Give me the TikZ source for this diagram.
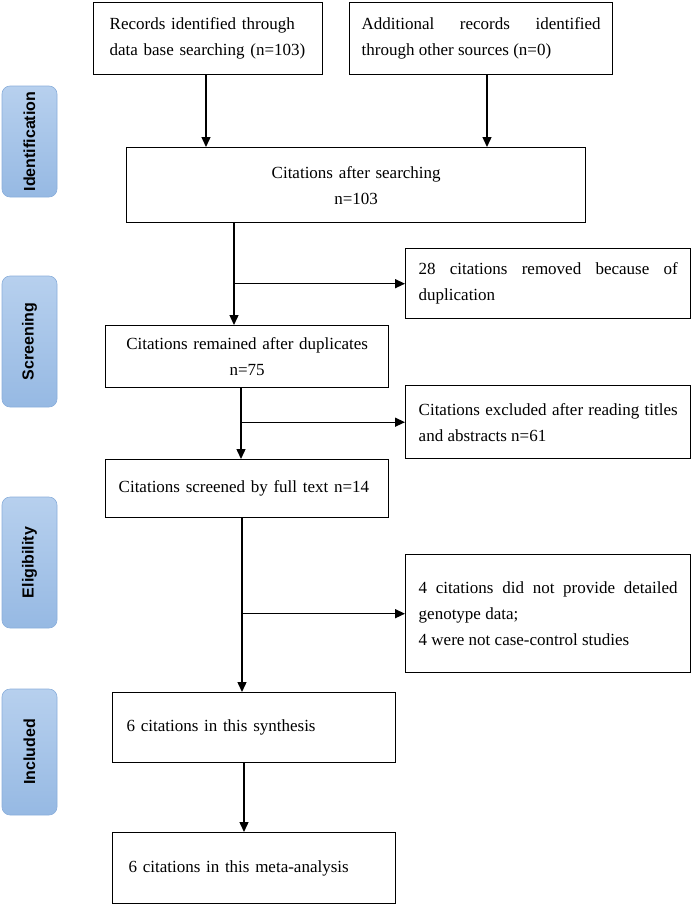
\documentclass[tikz,border=0pt]{standalone}
\usepackage{fontspec}
\setmainfont{Liberation Serif}
\newfontfamily\stagefont{Liberation Sans}
\usetikzlibrary{arrows.meta}
\hyphenpenalty=10000
\exhyphenpenalty=10000
\setlength{\parindent}{0pt}

\definecolor{stagetop}{HTML}{B7D0EE}
\definecolor{stagebot}{HTML}{96B9E3}
\definecolor{stageline}{HTML}{8AAEDB}

\tikzset{
  box/.style={draw, line width=1.4pt, anchor=north west, inner ysep=0pt,
    font=\fontsize{17}{26}\selectfont},
  stage/.style={draw=stageline, line width=0.6pt, rounded corners=8pt,
    top color=stagetop, bottom color=stagebot, rotate=90, minimum height=55pt,
    inner sep=0pt, font=\stagefont\bfseries\fontsize{16}{18}\selectfont},
  arr/.style={line width=1.4pt, -{Triangle[length=10pt,width=9pt]}}
}

\begin{document}
\begin{tikzpicture}[x=1pt, y=-1pt]
	\useasboundingbox (0,0) rectangle (693,905);

	% stages
	\node[stage, minimum width=111pt] (ident) at (29.5,141.5) {Identification};
	\node[stage, minimum width=131pt] (screen) at (29.5,341.5) {Screening};
	\node[stage, minimum width=131pt] (elig) at (29.5,562.5) {Eligibility};
	\node[stage, minimum width=126pt] (incl) at (29.5,752) {Included};

	% boxes
	\node[box, minimum height=72pt, text width=197pt, inner xsep=16pt, align=left] (rec1) at (93,2)
		{Records identified through\\data base searching (n=103)};
	\node[box, minimum height=72pt, text width=239pt, inner xsep=12pt, align=justify] (rec2) at (349,2)
		{Additional records identified\linebreak through other sources (n=0)};
	\node[box, minimum height=75pt, text width=431pt, inner xsep=14pt, align=center] (search) at (126,147)
		{Citations after searching\\n=103};
	\node[box, minimum height=70pt, text width=259pt, inner xsep=13pt, align=justify] (dup) at (405,248)
		{28 citations removed because of\linebreak duplication};
	\node[box, minimum height=62pt, text width=265pt, inner xsep=9pt, align=center] (remained) at (105,325)
		{Citations remained after duplicates\\n=75};
	\node[box, minimum height=73pt, text width=259pt, inner xsep=13pt, align=justify] (excl) at (405,385)
		{Citations excluded after reading titles\linebreak and abstracts n=61};
	\node[box, minimum height=58pt, text width=257pt, inner xsep=13pt, align=left] (fulltext) at (105,459)
		{Citations screened by full text n=14};
	\node[box, minimum height=118pt, text width=259pt, inner xsep=13pt, align=justify] (geno) at (405,554)
		{4 citations did not provide detailed\linebreak genotype data;\\4 were not case-control studies};
	\node[box, minimum height=70pt, text width=255pt, inner xsep=14pt, align=left] (synth) at (112,692)
		{6 citations in this synthesis};
	\node[box, minimum height=71pt, text width=251pt, inner xsep=16pt, align=left] (meta) at (112,832)
		{6 citations in this meta-analysis};

	% arrows
	\coordinate (a1) at (206,0);
	\coordinate (a2) at (487,0);
	\coordinate (t1) at (234,0);
	\coordinate (t2) at (241,0);
	\coordinate (t3) at (242,0);
	\coordinate (t4) at (244,0);
	\draw[arr] (a1 |- rec1.south) -- (a1 |- search.north);
	\draw[arr] (a2 |- rec2.south) -- (a2 |- search.north);
	\draw[arr] (t1 |- search.south) -- (t1 |- remained.north);
	\draw[arr] (t1 |- dup.west) -- (dup.west);
	\draw[arr] (t2 |- remained.south) -- (t2 |- fulltext.north);
	\draw[arr] (t2 |- excl.west) -- (excl.west);
	\draw[arr] (t3 |- fulltext.south) -- (t3 |- synth.north);
	\draw[arr] (t3 |- geno.west) -- (geno.west);
	\draw[arr] (t4 |- synth.south) -- (t4 |- meta.north);

\end{tikzpicture}
\end{document}
